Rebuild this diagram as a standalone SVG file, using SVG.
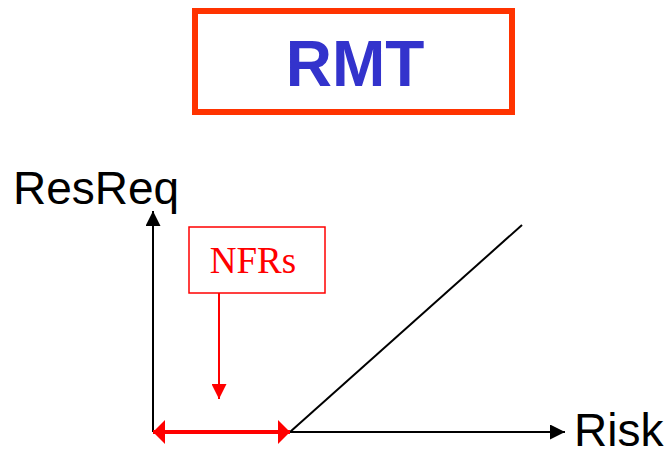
<svg xmlns="http://www.w3.org/2000/svg" width="671" height="449" viewBox="0 0 671 449">
<style>
.ax{stroke:#000;stroke-width:2;fill:none}
.red{stroke:#FF0000;fill:none}
.lbl{font-family:"Liberation Sans",Arial,sans-serif;font-size:46px;fill:#000}
</style>
<defs>
<marker id="ab" viewBox="0 0 10 10" refX="10" refY="5" markerWidth="7.5" markerHeight="7.5" markerUnits="strokeWidth" orient="auto"><path d="M0,0L10,5L0,10Z" fill="#000"/></marker>
<marker id="ar" viewBox="0 0 10 10" refX="10" refY="5" markerWidth="7.5" markerHeight="7.5" markerUnits="strokeWidth" orient="auto"><path d="M0,0L10,5L0,10Z" fill="#FF0000"/></marker>
<marker id="ar2" viewBox="0 0 10 20" refX="10" refY="10" markerWidth="3" markerHeight="6" markerUnits="strokeWidth" orient="auto-start-reverse"><path d="M0,0L10,10L0,20Z" fill="#FF0000"/></marker>
</defs>
<g id="title">
<rect x="195" y="11" width="317" height="101" fill="#fff" stroke="#FF3300" stroke-width="6"/>
<text x="355" y="86" text-anchor="middle" font-family="'Liberation Sans',Arial,sans-serif" font-weight="bold" font-size="64" fill="#3333CC">RMT</text>
</g>
<g id="resreq"><text class="lbl" x="13" y="204">ResReq</text></g>
<g id="risk"><text class="lbl" x="574" y="446">Risk</text></g>
<g id="nfrs">
<rect x="189" y="227" width="136" height="66" fill="#fff" stroke="#FF0000" stroke-width="1.5"/>
<text x="253" y="273" text-anchor="middle" font-family="'Liberation Serif','Times New Roman',serif" font-size="37" fill="#FF0000">NFRs</text>
</g>
<g id="connectors">
<line class="ax" x1="153" y1="432" x2="153" y2="211" marker-end="url(#ab)"/>
<line class="ax" x1="153" y1="432" x2="565" y2="432" marker-end="url(#ab)"/>
<line class="ax" x1="290" y1="432" x2="522" y2="225"/>
<line class="red" stroke-width="2" x1="219" y1="293" x2="219" y2="399" marker-end="url(#ar)"/>
<line class="red" stroke-width="4" x1="153" y1="432" x2="290" y2="432" marker-start="url(#ar2)" marker-end="url(#ar2)"/>
</g>
</svg>
